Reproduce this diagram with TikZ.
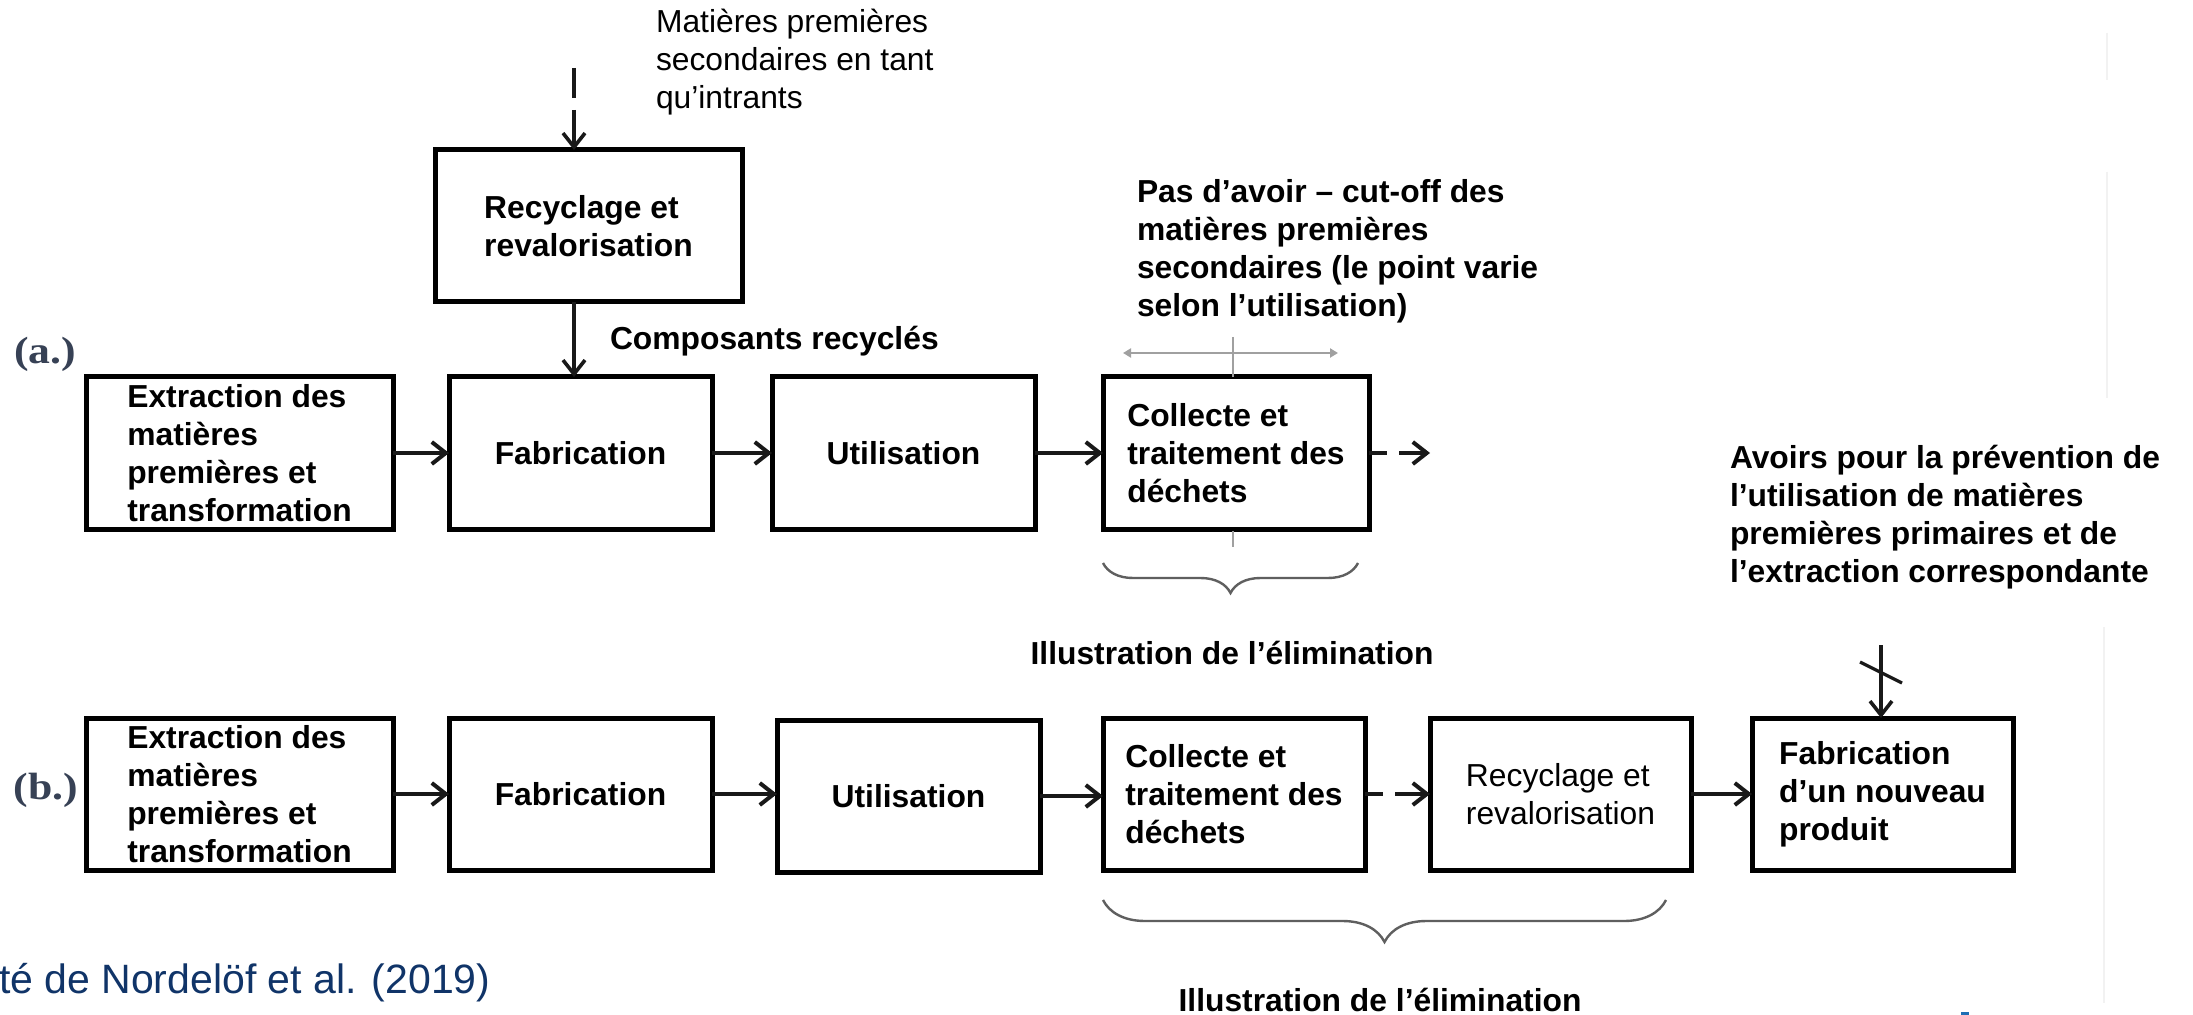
\documentclass[tikz,border=0pt]{standalone}
\usepackage{fontspec}
\setmainfont{Liberation Sans}
\newfontfamily\lserif{Liberation Serif}
\usetikzlibrary{arrows.meta,decorations.pathreplacing,calc}
\definecolor{capblue}{RGB}{16,52,104}
\definecolor{lblcol}{RGB}{55,65,85}
\definecolor{bracecol}{RGB}{95,95,95}
\definecolor{guidegray}{RGB}{160,160,160}
\definecolor{markblue}{RGB}{30,110,180}
\begin{document}
\begin{tikzpicture}[x=0.5pt,y=-0.5pt,
  every node/.style={inner sep=0pt, outer sep=0pt},
  procbox/.style={draw, line width=2.5pt, minimum height=76pt},
  wA/.style={minimum width=153.5pt},
  wB/.style={minimum width=131.5pt},
  boxtext/.style={font=\fontsize{15.9}{19}\selectfont\bfseries, align=left},
  plaintext/.style={font=\fontsize{15.9}{19}\selectfont, align=left},
  flow/.style={line width=2pt, draw=black!90, -{Straight Barb[length=7pt,width=11pt]}},
  vflow/.style={line width=1.8pt, draw=black!90, -{Straight Barb[length=7pt,width=11pt]}},
  dashflow/.style={flow, dash pattern=on 9pt off 6pt on 40pt},
  guide/.style={line width=1pt, draw=guidegray},
  bracest/.style={line width=1.2pt, draw=bracecol, decorate},
  faint/.style={line width=0.6pt, draw=black!5},
  rowlabel/.style={font=\lserif\bfseries\fontsize{19}{22}\selectfont, text=lblcol, xscale=1.15}
]
\useasboundingbox (0,0) rectangle (2193,1015);
\fill[white] (0,0) rectangle (2193,1015);

% faint artefact lines at the right
\draw[faint] (2107,33) -- (2107,80);
\draw[faint] (2107,172) -- (2107,398);
\draw[faint] (2104,627) -- (2104,1003);

% boxes row (a)
\node[procbox,wA] (ra) at (588.5,226) {};
\node[boxtext] at (ra) {Recyclage et\\revalorisation};
\node[procbox,wA,boxtext] (ea) at (239.5,453) {Extraction des\\matières\\premières et\\transformation};
\node[procbox,wB,boxtext] (fa) at (580.5,453) {Fabrication};
\node[procbox,wB,boxtext] (ua) at (903.5,453) {Utilisation};
\node[procbox,minimum width=133pt,boxtext] (ca) at (1236,453) {Collecte et\\traitement des\\déchets};

% boxes row (b)
\node[procbox,wA,boxtext] (eb) at (239.5,794) {Extraction des\\matières\\premières et\\transformation};
\node[procbox,wB,boxtext] (fb) at (580.5,794) {Fabrication};
\node[procbox,wB,boxtext] (ub) at (908.5,796) {Utilisation};
\node[procbox,minimum width=131pt,boxtext] (cb) at (1234,794) {Collecte et\\traitement des\\déchets};
\node[procbox,minimum width=130.5pt,plaintext] (rb) at (1560.5,794) {Recyclage et\\revalorisation};
\node[procbox,minimum width=130.5pt,boxtext] (nb) at (1882.5,794) {Fabrication\\d’un nouveau\\produit};

% labels
\node[rowlabel] (la) at (45,354) {(a.)};
\node[rowlabel] (lb) at (46,790) {(b.)};

\node[plaintext, anchor=west] (mat) at (656,62) {Matières premières\\secondaires en tant\\qu’intrants};
\node[boxtext, anchor=west] (comp) at (610,341) {Composants recyclés};
\node[boxtext, anchor=west] (pas) at (1137,251) {Pas d’avoir – cut-off des\\matières premières\\secondaires (le point varie\\selon l’utilisation)};
\node[boxtext, anchor=west] (avo) at (1730,517) {Avoirs pour la prévention de\\l’utilisation de matières\\premières primaires et de\\l’extraction correspondante};
\node[boxtext] (ill1) at (1232,653) {Illustration de l’élimination};
\node[boxtext] (ill2) at (1380,1000) {Illustration de l’élimination};
\node[font=\fontsize{20.5}{24}\selectfont, text=capblue, anchor=west] (cap) at (-1,983) {té de Nordelöf et al. (2019)};

% vertical connectors (a)
\coordinate (mtop) at (574,68);
\draw[vflow, dash pattern=on 15pt off 6pt on 40pt] (mtop) -- (mtop |- ra.north);
\draw[vflow] (ra.south -| mtop) -- (fa.north -| mtop);

% row (a) connectors
\draw[flow] (ea.east) -- (fa.west);
\draw[flow] (fa.east) -- (ua.west);
\draw[flow] (ua.east) -- (ca.west);
\coordinate (aout) at (1430,453);
\draw[dashflow] (ca.east) -- (aout);

% row (b) connectors
\draw[flow] (eb.east) -- (fb.west);
\draw[flow] (fb.east) -- (fb.east -| ub.west);
\draw[flow] (ub.east) -- (ub.east -| cb.west);
\draw[dashflow] (cb.east) -- (rb.west);
\draw[flow] (rb.east) -- (nb.west);

% crossed arrow into new product
\coordinate (avtop) at (1881,645);
\draw[vflow] (avtop) -- (avtop |- nb.north);
\draw[line width=1.6pt, black!90] ($(avtop)+(-21,17)$) -- ($(avtop)+(21,38)$);

% cut-off guide
\draw[guide, {Triangle[length=4pt,width=4.5pt]}-{Triangle[length=4pt,width=4.5pt]}] (1123,353) -- (1338,353);
\coordinate (cut) at (1233,337);
\draw[guide] (cut) -- (cut |- ca.north);
\draw[guide] ($(cut |- ca.south)+(0,2)$) -- ++(0,16);

% braces
\draw[bracest, decoration={brace,amplitude=15pt}] (1358,563) -- (1103,563);
\draw[bracest, decoration={brace,amplitude=21pt}] (1666,900) -- (1103,900);

% small blue mark at bottom
\fill[markblue] (1961,1012) rectangle (1969,1015);
\end{tikzpicture}
\end{document}
